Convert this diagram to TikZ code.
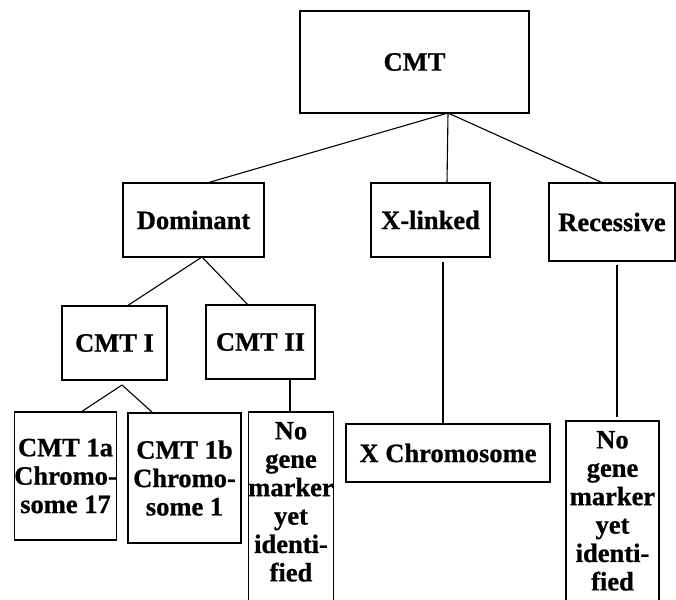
\documentclass[tikz,border=0pt]{standalone}
\usepackage{fontspec}
\setmainfont{Liberation Serif}[BoldFeatures={FakeBold=0.8}]
\tikzset{
  cmt diagram/.style={
    draw=black, line width=1pt,
    every node/.style={font=\bfseries\fontsize{26.5}{28.4}\selectfont,
      text=black, inner sep=0pt, outer sep=0pt, align=center}
  },
  cmt box/.style={draw, line width=1.3pt},
  cmt tall/.style={cmt box, anchor=north, inner ysep=10pt, text depth=190pt},
  cmt link/.style={line width=1.1pt}
}

\begin{document}
\begin{tikzpicture}[cmt diagram,x=1pt,y=-1pt]
    \useasboundingbox (0,0) rectangle (676,599);
    \clip (0,0) rectangle (676,599);
    % top levels
    \node[cmt box,minimum width=229,minimum height=102] (cmt) at (414.5,62) {CMT};
    \node[cmt box,minimum width=141,minimum height=74] (dom) at (193.5,220) {Dominant};
    \node[cmt box,minimum width=119,minimum height=74] (xlk) at (430.5,220) {X-linked};
    \node[cmt box,minimum width=126,minimum height=78] (rec) at (612,222) {Recessive};
    \node[cmt box,minimum width=105,minimum height=74] (cmtI) at (114.5,343) {CMT I};
    \node[cmt box,minimum width=109,minimum height=74] (cmtII) at (260.5,342) {CMT II};
    % bottom row
    \node[cmt box,minimum width=101,minimum height=128] (cmtIa) at (65.5,476) {CMT 1a\\Chromo-\\some 17};
    \node[cmt box,minimum width=113,minimum height=130] (cmtIb) at (184.5,478) {CMT 1b\\Chromo-\\some 1};
    \node[cmt tall,minimum width=84] (nogeneD) at (291,412) {No\\gene\\marker\\yet\\identi-\\fied};
    \node[cmt box,minimum width=204,minimum height=58] (xchr) at (448,453) {X Chromosome};
    \node[cmt tall,minimum width=93] (nogeneR) at (612.5,421) {No\\gene\\marker\\yet\\identi-\\fied};

    \draw[cmt link] ([xshift=33.5pt]cmt.south) -- ([xshift=13.5pt]dom.north);
    \draw[cmt link] ([xshift=33.5pt]cmt.south) -- ([xshift=16.5pt]xlk.north);
    \draw[cmt link] ([xshift=33.5pt]cmt.south) -- ([xshift=-9pt]rec.north);
    \draw[cmt link] ([xshift=8.5pt]dom.south) -- ([xshift=12.5pt]cmtI.north);
    \draw[cmt link] ([xshift=8.5pt]dom.south) -- ([xshift=-12.5pt]cmtII.north);
    \draw[cmt link] ([xshift=7.5pt,yshift=-5pt]cmtI.south) -- ([xshift=15.5pt]cmtIa.north);
    \draw[cmt link] ([xshift=7.5pt,yshift=-5pt]cmtI.south) -- ([xshift=-31.5pt]cmtIb.north);
    \draw[cmt link] ([xshift=29.5pt]cmtII.south) -- ([xshift=-1pt]nogeneD.north);
    \draw[cmt link] ([xshift=12.5pt,yshift=-5pt]xlk.south) -- ([xshift=-5pt]xchr.north);
    \draw[cmt link] ([xshift=5pt,yshift=-4pt]rec.south) -- ([xshift=4.5pt,yshift=4pt]nogeneR.north);
  \end{tikzpicture}
\end{document}
